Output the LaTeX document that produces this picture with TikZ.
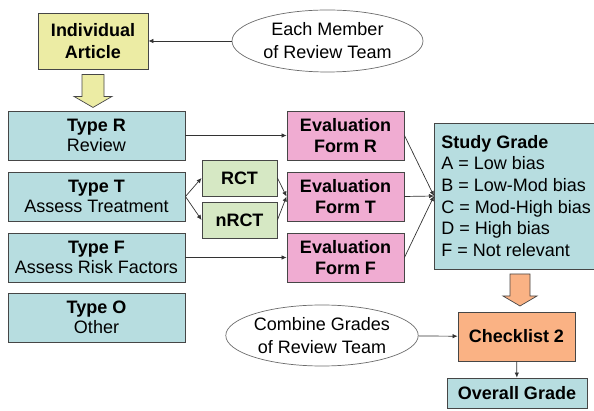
\documentclass[tikz,border=0pt]{standalone}
\usepackage{fontspec}
\setmainfont{Liberation Sans}
\usepackage{xcolor}
\usepackage{tikz}
\usetikzlibrary{arrows.meta,positioning,shapes.geometric,calc}
\definecolor{ArticleYellow}{RGB}{236,236,164}
\definecolor{TypeBlue}{RGB}{183,221,224}
\definecolor{FormPink}{RGB}{240,172,210}
\definecolor{TrialGreen}{RGB}{214,232,196}
\definecolor{CheckOrange}{RGB}{250,178,132}
\definecolor{EdgeGray}{RGB}{70,70,70}

\begin{document}
\begin{tikzpicture}[
  x=1pt, y=-1pt,
  box/.style={
    draw=EdgeGray,
    line width=0.9pt,
    align=center,
    inner sep=2pt,
    font=\fontsize{18}{20.5}\selectfont
  },
  typebox/.style={box, fill=TypeBlue, minimum width=177pt, minimum height=49pt},
  formbox/.style={box, fill=FormPink, minimum width=117pt, minimum height=49pt, font=\fontsize{18}{21}\selectfont\bfseries},
  trialbox/.style={box, fill=TrialGreen, minimum width=75pt, minimum height=36pt, font=\fontsize{18}{20}\selectfont\bfseries},
  team/.style={
    ellipse,
    draw=EdgeGray!80,
    line width=0.7pt,
    align=center,
    inner sep=0pt,
    font=\fontsize{18}{23}\selectfont
  },
  msg/.style={-{Latex[length=5pt,width=4.5pt]}, line width=0.7pt, draw=black!80},
  blockarrow/.style={draw=EdgeGray, line width=0.7pt}
]
\useasboundingbox (0,0) rectangle (594,411);
\def\XType{96.5}
\def\XTrial{239.5}
\def\XForm{345.5}
\def\XGrade{517}
\def\YR{135.5}
\def\YT{196.5}
\def\YF{257.5}
\def\YO{317.5}

\node[box, fill=ArticleYellow, minimum width=110pt, minimum height=56pt,
  font=\fontsize{18}{22}\selectfont\bfseries] (article) at (93,41) {Individual\\Article};
\node[team, minimum width=191pt, minimum height=62pt] (member) at (327.5,41) {Each Member\\of Review Team};
\draw[msg] (member) -- (article);

% block arrow down to the types
\draw[blockarrow, fill=ArticleYellow]
  ($(article.south)+(-11,5)$) -- ($(article.south)+(11,5)$) -- ($(article.south)+(11,27)$)
  -- ($(article.south)+(19,27)$) -- ($(article.south)+(0,38)$) -- ($(article.south)+(-19,27)$)
  -- ($(article.south)+(-11,27)$) -- cycle;

\node[typebox] (typeR) at (\XType,\YR) {\textbf{Type R}\\Review};
\node[typebox] (typeT) at (\XType,\YT) {\textbf{Type T}\\Assess Treatment};
\node[typebox] (typeF) at (\XType,\YF) {\textbf{Type F}\\Assess Risk Factors};
\node[typebox] (typeO) at (\XType,\YO) {\textbf{Type O}\\Other};

\node[trialbox] (rct) at (\XTrial,178) {RCT};
\node[trialbox] (nrct) at (\XTrial,220) {nRCT};

\node[formbox] (formR) at (\XForm,\YR) {Evaluation\\Form R};
\node[formbox] (formT) at (\XForm,\YT) {Evaluation\\Form T};
\node[formbox] (formF) at (\XForm,\YF) {Evaluation\\Form F};

\node[box, fill=TypeBlue, anchor=west, align=left, inner xsep=7pt, minimum height=146pt,
  font=\fontsize{18}{21.7}\selectfont] (grade) at (434,196)
  {\textbf{Study Grade}\\A = Low bias\\B = Low-Mod bias\\C = Mod-High bias\\D = High bias\\F = Not relevant};

\draw[msg] (typeR) -- (formR);
\draw[msg] (typeT.east) -- (rct.west);
\draw[msg] (typeT.east) -- (nrct.west);
\draw[msg] (rct.east) -- (formT.west);
\draw[msg] (nrct.east) -- (formT.west);
\draw[msg] (typeF) -- (formF);
\draw[msg] (formR.east) -- (grade.west);
\draw[msg] (formT.east) -- (grade.west);
\draw[msg] (formF.east) -- (grade.west);

% block arrow down to the checklist
\draw[blockarrow, fill=CheckOrange]
  (510,274) -- (530,274) -- (530,296) -- (537,296) -- (520,306) -- (503,296) -- (510,296) -- cycle;

\node[box, fill=CheckOrange, minimum width=117pt, minimum height=49pt,
  font=\fontsize{18}{21}\selectfont\bfseries] (checklist) at (516.5,336.5) {Checklist 2};
\node[team, minimum width=190pt, minimum height=61pt] (combine) at (322,335.5) {Combine Grades\\of Review Team};
\node[box, fill=TypeBlue, minimum width=140pt, minimum height=30pt,
  font=\fontsize{18}{21}\selectfont\bfseries] (overall) at (\XGrade,393) {Overall Grade};

\draw[msg] (combine) -- (checklist);
\draw[msg] (checklist) -- (overall);
\end{tikzpicture}
\end{document}
